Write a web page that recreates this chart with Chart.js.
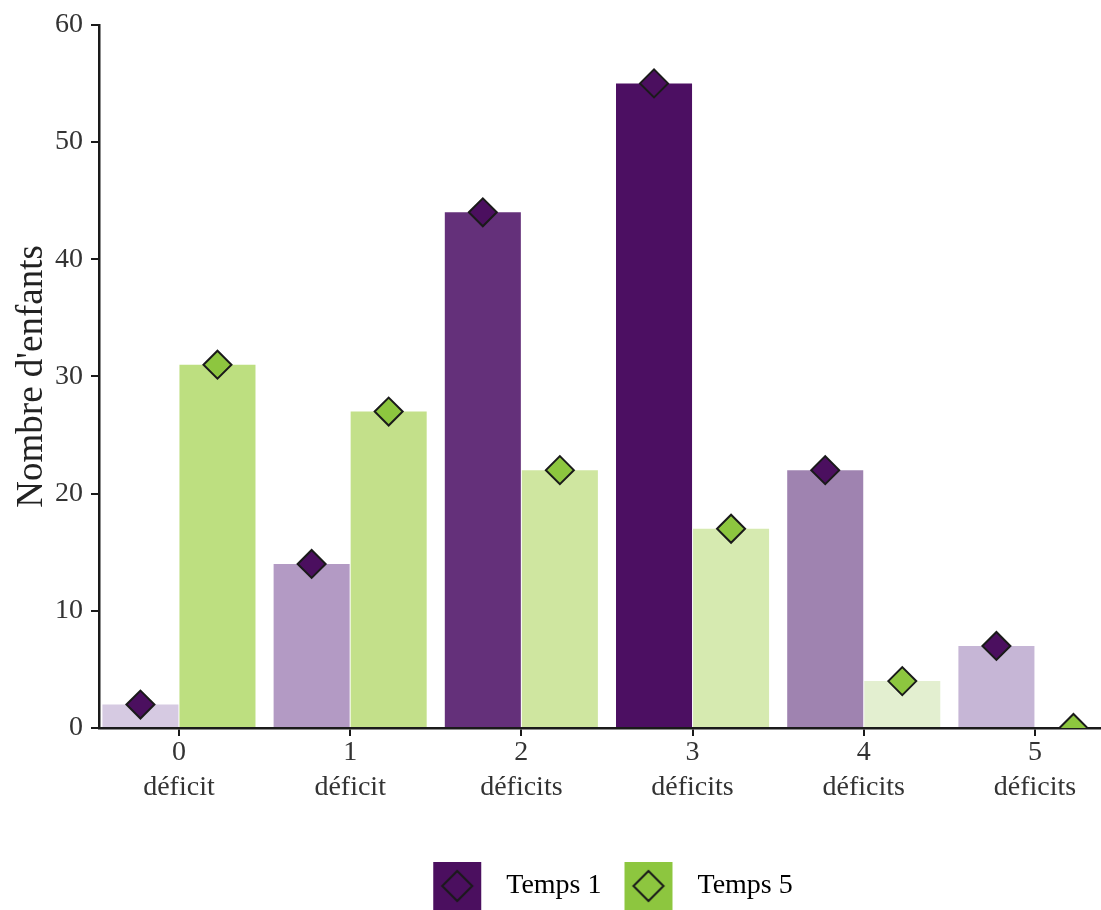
<!DOCTYPE html>
<html lang="fr">
<head>
<meta charset="utf-8">
<title>Nombre d'enfants selon le nombre de déficits</title>
<script src="https://cdn.jsdelivr.net/npm/chart.js@4.4.1/dist/chart.umd.min.js"></script>
<style>
  html, body { margin: 0; padding: 0; background: #fff; overflow: hidden; }
  .chart-box { position: relative; width: 1101px; height: 910px; }
  .chart-box canvas { display: block; }
</style>
</head>
<body>
<div class="chart-box"><canvas id="deficitChart"></canvas></div>
<script>
// Categories (number of deficits), two lines per label
const categories = [
    ['0', 'déficit'], ['1', 'déficit'], ['2', 'déficits'],
    ['3', 'déficits'], ['4', 'déficits'], ['5', 'déficits']
];
const seriesNames = ['Temps 1', 'Temps 5'];
const temps1 = [2, 14, 44, 55, 22, 7];
const temps5 = [31, 27, 22, 17, 4, 0];
const yTicks = [0, 10, 20, 30, 40, 50, 60];

// Colours: one shade per bar, darker for bigger counts
const temps1Bars = ['#d6cae2', '#b39ac4', '#64307a', '#4c0f62', '#9f83b0', '#c6b6d6'];
const temps5Bars = ['#bddf80', '#c3e08a', '#cfe6a0', '#d6eab0', '#e3efd0', '#eef6e2'];
const temps1Color = '#4b0f5f';
const temps5Color = '#8dc63f';
const inkColor = '#1a1a1a';
const fontFamily = "'Liberation Serif', 'Times New Roman', serif";

// Bar layout
const categoryPct = 0.9;
const barPct = 0.987;
const pointShift = categoryPct / 4; // centre of each bar inside its group

// Legend swatch: filled square with a diamond outline
function legendSwatch(fill) {
    const c = document.createElement('canvas');
    c.width = 50;
    c.height = 50;
    const g = c.getContext('2d');
    g.fillStyle = fill;
    g.fillRect(1, 1, 48, 48);
    g.beginPath();
    g.moveTo(25, 10);
    g.lineTo(40, 25);
    g.lineTo(25, 40);
    g.lineTo(10, 25);
    g.closePath();
    g.lineWidth = 2;
    g.strokeStyle = inkColor;
    g.stroke();
    return c;
}

const swatches = [legendSwatch(temps1Color), legendSwatch(temps5Color)];

// Legend sits centred under the panel, nudged a little to the right
const legendNudge = {
    id: 'legendNudge',
    afterLayout(chart) {
        chart.legend.left += 8;
        chart.legend.right += 8;
    }
};

const ctx = document.getElementById('deficitChart').getContext('2d');

const chart = new Chart(ctx, {
    data: {
        datasets: [
            {
                type: 'bar',
                label: seriesNames[0],
                data: temps1.map((v, i) => ({ x: i, y: v })),
                backgroundColor: temps1Bars,
                categoryPercentage: categoryPct,
                barPercentage: barPct,
                order: 2
            },
            {
                type: 'bar',
                label: seriesNames[1],
                data: temps5.map((v, i) => ({ x: i, y: v })),
                backgroundColor: temps5Bars,
                categoryPercentage: categoryPct,
                barPercentage: barPct,
                order: 2
            },
            {
                type: 'line',
                label: seriesNames[0] + ' points',
                data: temps1.map((v, i) => ({ x: i - pointShift, y: v })),
                showLine: false,
                pointStyle: 'rectRot',
                pointRadius: 14,
                pointBackgroundColor: temps1Color,
                pointBorderColor: inkColor,
                pointBorderWidth: 2,
                clip: 0,
                order: 1
            },
            {
                type: 'line',
                label: seriesNames[1] + ' points',
                data: temps5.map((v, i) => ({ x: i + pointShift, y: v })),
                showLine: false,
                pointStyle: 'rectRot',
                pointRadius: 14,
                pointBackgroundColor: temps5Color,
                pointBorderColor: inkColor,
                pointBorderWidth: 2,
                clip: 0,
                order: 1
            }
        ]
    },
    options: {
        responsive: true,
        maintainAspectRatio: false,
        animation: false,
        layout: {
            autoPadding: false,
            padding: { top: 23, right: 1, bottom: 0, left: 0 }
        },
        scales: {
            x: {
                type: 'linear',
                min: -0.467,
                max: 5.38,
                offset: false,
                afterBuildTicks: (scale) => {
                    scale.ticks = categories.map((c, i) => ({ value: i }));
                },
                afterFit: (scale) => {
                    scale.height = 132;
                    scale.paddingLeft = 0;
                    scale.paddingRight = 0;
                },
                grid: {
                    offset: false,
                    drawOnChartArea: false,
                    drawTicks: true,
                    tickLength: 8,
                    color: inkColor,
                    lineWidth: 2
                },
                border: {
                    display: true,
                    color: inkColor,
                    width: 2.5
                },
                ticks: {
                    autoSkip: false,
                    maxRotation: 0,
                    padding: -1,
                    color: '#333',
                    font: { family: fontFamily, size: 28, lineHeight: 1.25 },
                    callback: (value) => categories[value]
                }
            },
            y: {
                min: 0,
                max: 60,
                afterBuildTicks: (scale) => {
                    scale.ticks = yTicks.map(v => ({ value: v }));
                },
                afterFit: (scale) => {
                    scale.width = 99;
                },
                grid: {
                    drawOnChartArea: false,
                    drawTicks: true,
                    tickLength: 8,
                    color: inkColor,
                    lineWidth: 2
                },
                border: {
                    display: true,
                    color: inkColor,
                    width: 2.5
                },
                ticks: {
                    padding: 8,
                    color: '#333',
                    font: { family: fontFamily, size: 28 }
                },
                title: {
                    display: true,
                    text: "Nombre d'enfants",
                    color: '#222',
                    padding: { top: 10, bottom: 0 },
                    font: { family: fontFamily, size: 37 }
                }
            }
        },
        plugins: {
            tooltip: { enabled: false },
            legend: {
                position: 'bottom',
                fullSize: false,
                labels: {
                    usePointStyle: true,
                    pointStyleWidth: 70,
                    padding: 12,
                    color: '#222',
                    font: { family: fontFamily, size: 28 },
                    generateLabels: () => seriesNames.map((name, i) => ({
                        text: name,
                        pointStyle: swatches[i],
                        fillStyle: 'transparent',
                        strokeStyle: 'transparent',
                        lineWidth: 0,
                        datasetIndex: i,
                        hidden: false
                    }))
                }
            }
        }
    },
    plugins: [legendNudge]
});
</script>
</body>
</html>
